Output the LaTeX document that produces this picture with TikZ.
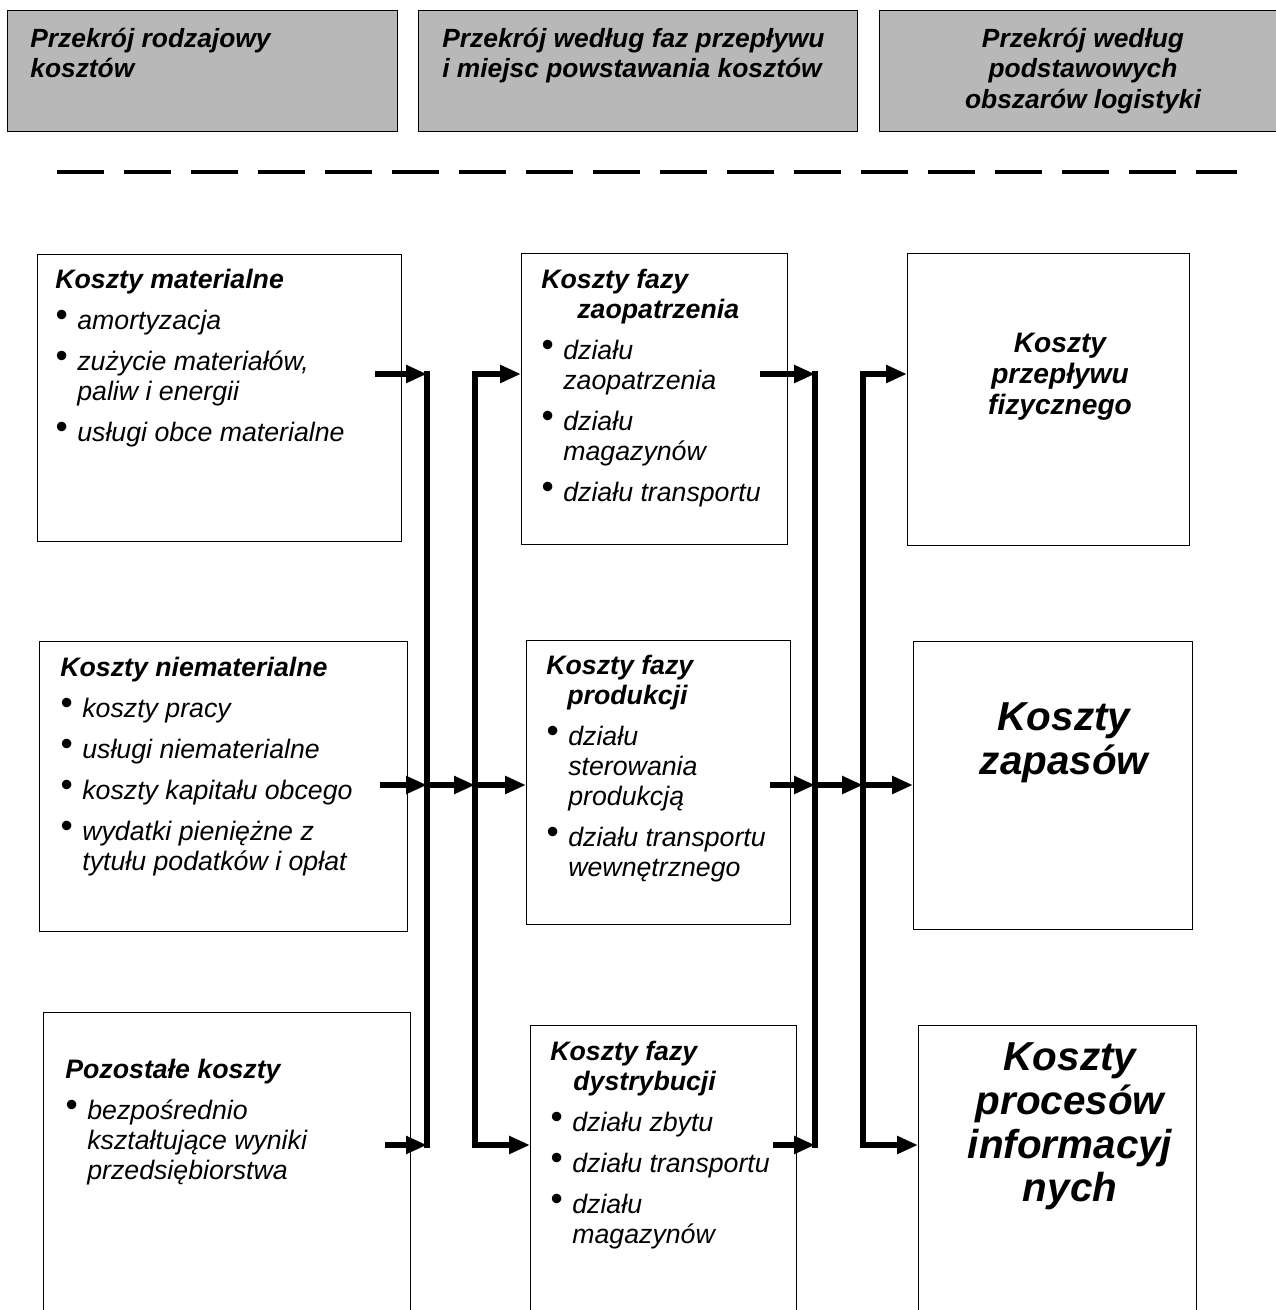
\documentclass[tikz,border=0pt]{standalone}
\usepackage{fontspec}
\setmainfont{Liberation Sans}
\usetikzlibrary{arrows.meta}

\newcommand{\bul}{\makebox[0.44cm][l]{\raisebox{0.12em}{\scalebox{1.3}{\textbullet}}}}
\newcommand{\bulind}{\hspace*{0.44cm}}

\begin{document}
\begin{tikzpicture}
        [
            x=0.02cm, y=-0.02cm,
            box/.style = {draw, black, line width=0.6pt, anchor=north west, inner sep=0pt},
            head/.style = {box, fill=black!28},
            txt/.style = {inner sep=0pt, align=left, anchor=north west, font=\itshape\fontsize{15.2}{17.07}\selectfont},
            headtxt/.style = {txt, font=\bfseries\itshape\fontsize{15}{17.2}\selectfont},
            bigtxt/.style = {inner sep=0pt, align=center, anchor=north, font=\bfseries\itshape\fontsize{23}{25}\selectfont},
            bus/.style = {line width=3.2pt, line cap=rect},
            flow/.style = {line width=3.2pt, -{Triangle[length=0.42cm, width=0.34cm]}}
        ]%
        \useasboundingbox (0,0) rectangle (1275,1310);
        % headers
        \node[head, minimum width=7.8cm, minimum height=2.42cm] (H1) at (7,10) {};
        \node[head, minimum width=8.78cm, minimum height=2.42cm] (H2) at (418,10) {};
        \node[head, minimum width=8.12cm, minimum height=2.42cm] (H3) at (879,10) {};
        \node[headtxt] (H1t) at (30,28) {Przekrój rodzajowy\\kosztów};
        \node[headtxt] (H2t) at (442,28) {Przekrój według faz przepływu\\i miejsc powstawania kosztów};
        \node[headtxt, align=center, anchor=north] (H3t) at (1083,28) {Przekrój według\\podstawowych\\obszarów logistyki};
        \draw[line width=0.08cm, dash pattern=on 0.94cm off 0.4cm] (57,172) -- (1237,172);
        % left column
        \node[box, minimum width=7.28cm, minimum height=5.74cm] (L1) at (37,254) {};
        \node[box, minimum width=7.36cm, minimum height=5.8cm] (L2) at (39,641) {};
        \node[box, minimum width=7.34cm, minimum height=6.3cm] (L3) at (43,1012) {};
        \node[txt] (L1t) at (55,269) {\textbf{Koszty materialne}\\[0.22cm]
            \bul amortyzacja\\[0.22cm]
            \bul zużycie materiałów,\\ \bulind paliw i energii\\[0.22cm]
            \bul usługi obce materialne};
        \node[txt] (L2t) at (60,657) {\textbf{Koszty niematerialne}\\[0.22cm]
            \bul koszty pracy\\[0.22cm]
            \bul usługi niematerialne\\[0.22cm]
            \bul koszty kapitału obcego\\[0.22cm]
            \bul wydatki pieniężne z\\ \bulind tytułu podatków i opłat};
        \node[txt] (L3t) at (65,1059) {\textbf{Pozostałe koszty}\\[0.22cm]
            \bul bezpośrednio\\ \bulind kształtujące wyniki\\ \bulind przedsiębiorstwa};
        % middle column
        \node[box, minimum width=5.32cm, minimum height=5.82cm] (M1) at (521,253) {};
        \node[box, minimum width=5.28cm, minimum height=5.68cm] (M2) at (526,640) {};
        \node[box, minimum width=5.32cm, minimum height=6.1cm] (M3) at (530,1025) {};
        \node[txt] (M1t) at (541,269) {\textbf{Koszty fazy}\\ \hspace*{0.72cm}\textbf{zaopatrzenia}\\[0.22cm]
            \bul działu\\ \bulind zaopatrzenia\\[0.22cm]
            \bul działu\\ \bulind magazynów\\[0.22cm]
            \bul działu transportu};
        \node[txt] (M2t) at (546,655) {\textbf{Koszty fazy}\\ \hspace*{0.42cm}\textbf{produkcji}\\[0.22cm]
            \bul działu\\ \bulind sterowania\\ \bulind produkcją\\[0.22cm]
            \bul działu transportu\\ \bulind wewnętrznego};
        \node[txt] (M3t) at (550,1041) {\textbf{Koszty fazy}\\ \hspace*{0.46cm}\textbf{dystrybucji}\\[0.22cm]
            \bul działu zbytu\\[0.22cm]
            \bul działu transportu\\[0.22cm]
            \bul działu\\ \bulind magazynów};
        % right column
        \node[box, minimum width=5.64cm, minimum height=5.84cm] (R1) at (907,253) {};
        \node[box, minimum width=5.58cm, minimum height=5.76cm] (R2) at (913,641) {};
        \node[box, minimum width=5.56cm, minimum height=6.1cm] (R3) at (918,1025) {};
        \node[txt, align=center, anchor=north, font=\bfseries\itshape\fontsize{16}{17.6}\selectfont] (R1t) at (1060,333) {Koszty\\przepływu\\fizycznego};
        \node[bigtxt] (R2t) at (1064,702) {Koszty\\zapasów};
        \node[bigtxt] (R3t) at (1070,1042) {Koszty\\procesów\\informacyj\\nych};
        % bus lines
        \coordinate (c1a) at (427,374);
        \coordinate (c1b) at (427,785);
        \coordinate (c1c) at (427,1145);
        \coordinate (c2a) at (475,374);
        \coordinate (c2b) at (475,785);
        \coordinate (c2c) at (475,1145);
        \coordinate (c3a) at (815,374);
        \coordinate (c3b) at (815,785);
        \coordinate (c3c) at (815,1145);
        \coordinate (c4a) at (863,374);
        \coordinate (c4b) at (863,785);
        \coordinate (c4c) at (863,1145);
        \coordinate (s1) at (375,374);
        \coordinate (s2) at (380,785);
        \coordinate (s3) at (385,1145);
        \coordinate (s4) at (760,374);
        \coordinate (s5) at (770,785);
        \coordinate (s6) at (773,1145);
        \draw[bus] (c1a) -- (c1c);
        \draw[bus] (c3a) -- (c3c);
        \draw[flow] (s1) -- (c1a);
        \draw[flow] (s2) -- (c1b);
        \draw[flow] (s3) -- (c1c);
        \draw[flow] (c1b) -- (c2b);
        \draw[flow] (c2b) -- (c2a) -- (M1.west |- c2a);
        \draw[flow] (c2b) -- (M2.west |- c2b);
        \draw[flow] (c2b) -- (c2c) -- (M3.west |- c2c);
        \draw[flow] (s4) -- (c3a);
        \draw[flow] (s5) -- (c3b);
        \draw[flow] (s6) -- (c3c);
        \draw[flow] (c3b) -- (c4b);
        \draw[flow] (c4b) -- (c4a) -- (R1.west |- c4a);
        \draw[flow] (c4b) -- (R2.west |- c4b);
        \draw[flow] (c4b) -- (c4c) -- (R3.west |- c4c);
\end{tikzpicture}
\end{document}
